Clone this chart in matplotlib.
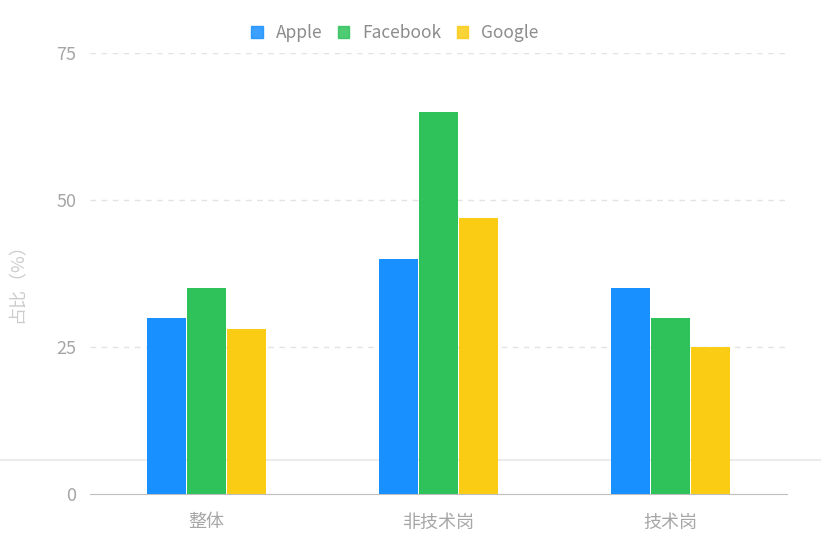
import matplotlib.pyplot as plt
from matplotlib.patches import Patch
from matplotlib.lines import Line2D
import numpy as np

plt.rcParams['font.family'] = ['Noto Sans CJK SC', 'DejaVu Sans']

categories = ['整体', '非技术岗', '技术岗']
series = ['Apple', 'Facebook', 'Google']
apple = [30, 40, 35]
facebook = [35, 65, 30]
google = [28, 47, 25]
yticks = [0, 25, 50, 75]
colors = ['#1890FF', '#2FC25B', '#FACC14']

W, H = 821, 538
fig = plt.figure(figsize=(W / 100, H / 100), dpi=100)
ax = fig.add_axes([90 / W, 44 / H, 697 / W, 441 / H])

# faint line across the whole figure (behind the bars)
fig.add_artist(Line2D([0, 1], [1 - 460 / H, 1 - 460 / H], color='#ebebeb', lw=1.5, zorder=0))

x = np.arange(len(categories))
width = 0.168
step = 0.172
for i, (vals, c) in enumerate(zip([apple, facebook, google], colors)):
    ax.bar(x + (i - 1) * step, vals, width, color=c, zorder=3)

ax.set_xlim(-0.5, 2.5)
ax.set_ylim(0, 75)
ax.set_yticks(yticks)
ax.set_xticks(x)
ax.set_xticklabels(categories)
ax.tick_params(axis='both', length=0, colors='#a6a6a6')
ax.tick_params(axis='x', labelsize=13, pad=14)
ax.tick_params(axis='y', labelsize=13, pad=10)

for v in yticks[1:]:
    ax.axhline(v, color='#e3e3e3', lw=1, ls=(0, (4, 4)), zorder=1)

for s in ['top', 'right', 'left']:
    ax.spines[s].set_visible(False)
ax.spines['bottom'].set_color('#bfbfbf')
ax.patch.set_alpha(0)

fig.text(17 / W, 1 - 279 / H, '占比（%）', rotation=90, color='#cccccc',
         fontsize=13, ha='center', va='center')

handles = [Patch(color=c, alpha=0.85) for c in colors]
fig.legend(handles, series, loc='center', bbox_to_anchor=(395 / W, 1 - 33 / H),
           ncol=3, frameon=False, handlelength=0.65, handleheight=0.65,
           handletextpad=0.75, columnspacing=0.9, fontsize=12.5, labelcolor='#8c8c8c')

fig.savefig('out.png', dpi=100)
